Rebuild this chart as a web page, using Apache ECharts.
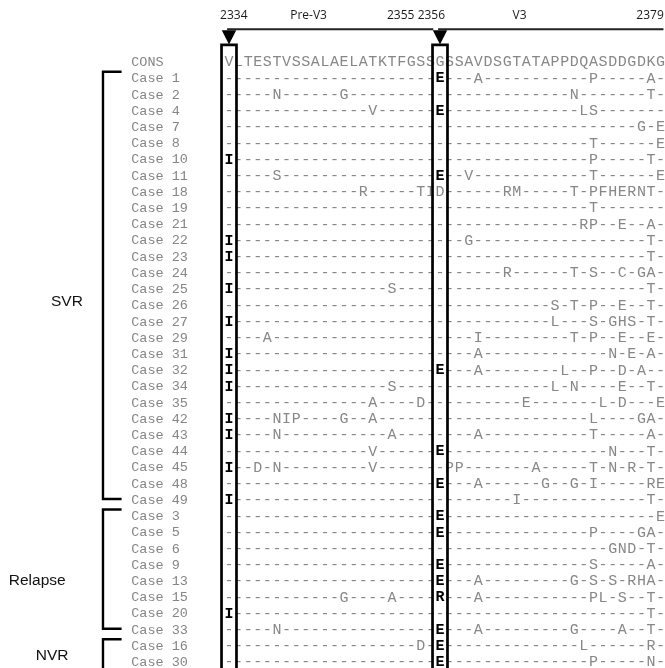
<!DOCTYPE html>
<html><head><meta charset="utf-8">
<script src="https://cdn.jsdelivr.net/npm/echarts@6/dist/echarts.min.js"></script>
<style>html,body{margin:0;padding:0;background:#fff}#c{width:665px;height:668px}</style>
</head><body><div id="c"></div>
<script>
// ---- data ----
const rowLabels = ["CONS","Case 1","Case 2","Case 4","Case 7","Case 8","Case 10","Case 11","Case 18","Case 19","Case 21","Case 22","Case 23","Case 24","Case 25","Case 26","Case 27","Case 29","Case 31","Case 32","Case 34","Case 35","Case 42","Case 43","Case 44","Case 45","Case 48","Case 49","Case 3","Case 5","Case 6","Case 9","Case 13","Case 15","Case 20","Case 33","Case 16","Case 30"];
// alignment columns 2334..2379, written in blocks of 10
const sequences = [
"VLTESTVSSA LAELATKTFG SSGSSAVDSG TATAPPDQAS DDGDKG",
"---------- ---------- --E---A--- --------P- ----A-",
"-----N---- --G------- ---------- ------N--- ----T-",
"---------- -----V---- --E------- -------LS- ------",
"---------- ---------- ---------- ---------- ---G-E",
"---------- ---------- ---------- --------T- -----E",
"I--------- ---------- ---------- --------P- ----T-",
"-----S---- ---------- --E--V---- --------T- -----E",
"---------- ----R----- TID------R M-----T-PF HERNT-",
"---------- ---------- ---------- --------T- ------",
"---------- ---------- ---------- -------RP- -E--A-",
"I--------- ---------- -----G---- ---------- ----T-",
"I--------- ---------- ---------- ---------- ----T-",
"---------- ---------- ---------R ------T-S- -C-GA-",
"I--------- -------S-- ---------- ---------- ----T-",
"---------- ---------- ---------- ----S-T-P- -E--T-",
"I--------- ---------- ---------- ----L---S- GHS-T-",
"----A----- ---------- ------I--- ------T-P- -E--E-",
"I--------- ---------- ------A--- ---------- N-E-A-",
"I--------- ---------- --E---A--- -----L--P- -D-A--",
"I--------- -------S-- ---------- ----L-N--- -E--T-",
"---------- -----A---- D--------- -E-------L -D---E",
"I----NIP-- --G--A---- ---------- --------L- ---GA-",
"I----N---- -------A-- ------A--- --------T- ----A-",
"---------- -----V---- --E------- ---------- N---T-",
"I--D-N---- -----V---- ---PP----- --A-----T- N-R-T-",
"---------- ---------- --E---A--- ---G--G-I- ----RE",
"I--------- ---------- ---------- I--------- ----T-",
"---------- ---------- --E------- ---------- -----E",
"---------- ---------- --E------- --------P- ---GA-",
"---------- ---------- ---------- ---------- GND-T-",
"---------- ---------- --E------- --------S- ----A-",
"---------- ---------- --E---A--- ------G-S- S-RHA-",
"---------- --G----A-- --R---A--- --------PL -S--T-",
"I--------- ---------- ---------- ---------- ----T-",
"-----N---- ---------- --E---A--- ------G--- -A--T-",
"---------- ---------- D-E------- -------L-- ----R-",
"---------- ---------- --E------- --------P- ----N-"
];
const boxedColumns = [0, 22];
const boldResidues = ["I", "E", "R"];
const groupNames = ["SVR", "Relapse", "NVR"];
const groupFirstRow = [1, 28, 36];
const groupLastRow = [27, 35, 37];
const regionNames = ["Pre-V3", "V3"];
const regionStartCol = [0, 22];
const regionEndCol = [21, 45];
const headerTexts = ["2334", "Pre-V3", "2355", "2356", "V3", "2379"];
const headerCols = [0.5, 8.3, 17.9, 21.1, 30.3, 43.9];

// ---- build ----
const X_MIN = -23.877, X_MAX = 45.459, Y_MIN = -3.823, Y_MAX = 37.37;
const charData = [];
sequences.forEach((s, r) => {
  const seq = s.replace(/ /g, "");
  for (let c = 0; c < seq.length; c++) {
    const ch = seq[c];
    const bold = r > 0 && boxedColumns.indexOf(c) >= 0 && boldResidues.indexOf(ch) >= 0;
    charData.push([c, r, ch, bold]);
  }
});

function txt(x, y, text, font, fill, align) {
  return {type: 'text', x: x, y: y, style: {text: text, font: font, fill: fill,
    textAlign: align || 'center', textVerticalAlign: 'middle', align: align || 'center', verticalAlign: 'middle'}};
}

const chart = echarts.init(document.getElementById('c'), null, {renderer: 'canvas'});
chart.setOption({
  animation: false,
  backgroundColor: '#fff',
  grid: {left: 0, right: 0, top: 0, bottom: 0},
  xAxis: {type: 'value', min: X_MIN, max: X_MAX, show: false},
  yAxis: {type: 'value', min: Y_MIN, max: Y_MAX, inverse: true, show: false},
  series: [
    { // residues
      type: 'custom', silent: true, clip: false,
      data: charData.map(d => [d[0], d[1]]),
      renderItem: (params, api) => {
        const d = charData[params.dataIndex];
        const p = api.coord([d[0], d[1]]);
        return txt(p[0], p[1] + 0.5, d[2], (d[3] ? 'bold ' : '') + '15px "Liberation Mono", monospace', d[3] ? '#000' : '#878787');
      }
    },
    { // row labels
      type: 'custom', silent: true, clip: false,
      data: rowLabels.map((l, r) => [-10.2, r]),
      renderItem: (params, api) => {
        const p = api.coord([api.value(0), api.value(1)]);
        return txt(p[0], p[1] + 0.5, rowLabels[params.dataIndex], '13.5px "Liberation Mono", monospace', '#858585', 'left');
      }
    },
    { // boxes and arrowheads
      type: 'custom', silent: true, clip: false,
      data: boxedColumns.map(c => [c]),
      renderItem: (params, api) => {
        const c = api.value(0);
        const a = api.coord([c - 0.78, -1.05]);
        const b = api.coord([c + 0.78, Y_MAX + 1]);
        const t1 = api.coord([c - 0.75, -1.95]);
        const t2 = api.coord([c + 0.75, -1.95]);
        const t3 = api.coord([c, -1.08]);
        return {type: 'group', children: [
          {type: 'rect', shape: {x: a[0], y: a[1], width: b[0] - a[0], height: b[1] - a[1]},
           style: {fill: 'none', stroke: '#000', lineWidth: 2.7}},
          {type: 'polygon', shape: {points: [t1, t2, t3]}, style: {fill: '#000'}}
        ]};
      }
    },
    { // region lines
      type: 'custom', silent: true, clip: false,
      data: regionNames.map((n, i) => [regionStartCol[i], regionEndCol[i]]),
      renderItem: (params, api) => {
        const a = api.coord([api.value(0) - 0.2, -2.02]);
        const b = api.coord([api.value(1) + 0.3, -2.02]);
        return {type: 'line', shape: {x1: a[0], y1: a[1], x2: b[0], y2: b[1]}, style: {stroke: '#222', lineWidth: 2.2}};
      }
    },
    { // header text
      type: 'custom', silent: true, clip: false,
      data: headerCols.map(c => [c, -2.85]),
      renderItem: (params, api) => {
        const p = api.coord([api.value(0), api.value(1)]);
        return txt(p[0], p[1], headerTexts[params.dataIndex], '12px "Open Sans", "Liberation Sans", sans-serif', '#1a1a1a');
      }
    },
    { // group brackets
      type: 'custom', silent: true, clip: false,
      data: groupNames.map((n, i) => [groupFirstRow[i], groupLastRow[i]]),
      renderItem: (params, api) => {
        const i = params.dataIndex;
        const last = i === groupNames.length - 1;
        const top = api.value(0) - 0.4;
        const bot = last ? Y_MAX + 1 : api.value(1) - 0.05;
        const xv = -13.14, xt = -11.2;
        const pts = [api.coord([xt, top]), api.coord([xv, top]), api.coord([xv, bot])];
        if (!last) pts.push(api.coord([xt, bot]));
        const labelCol = {SVR: -16.9, Relapse: -20.0, NVR: -18.45}[groupNames[i]];
        const labelShift = {SVR: 0.8, Relapse: 0.5, NVR: 0.1}[groupNames[i]];
        const lp = api.coord([labelCol, (api.value(0) + api.value(1)) / 2 + labelShift]);
        return {type: 'group', children: [
          {type: 'polyline', shape: {points: pts}, style: {fill: 'none', stroke: '#000', lineWidth: 2.4}},
          txt(lp[0], lp[1], groupNames[i], '15.5px "Liberation Sans", Arial, sans-serif', '#111')
        ]};
      }
    }
  ]
});
</script></body></html>
